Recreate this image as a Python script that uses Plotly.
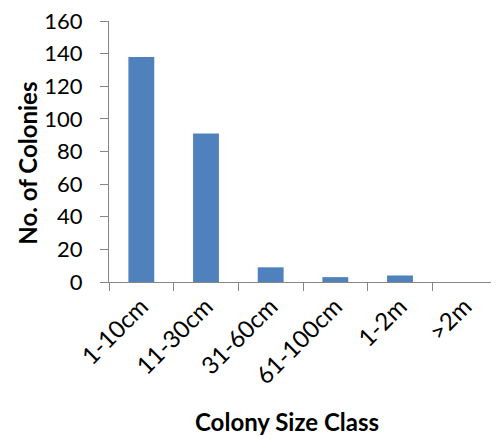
import plotly.graph_objects as go

categories = ["1-10cm", "11-30cm", "31-60cm", "61-100cm", "1-2m", ">2m"]
colonies = [138, 91, 9, 3, 4, 0]
y_ticks = [0, 20, 40, 60, 80, 100, 120, 140, 160]
x_title = "Colony Size Class"
y_title = "No. of Colonies"

FONT = "Lato"
AXIS = "#868686"

fig = go.Figure(go.Bar(x=categories, y=colonies, marker=dict(color="#4f81bd", line=dict(width=0))))

# page body has an 8px default margin, so the figure is offset by (8, 8)
fig.update_layout(
    width=491, height=431,
    margin=dict(l=101, r=2, t=13, b=157),
    plot_bgcolor="white", paper_bgcolor="white",
    bargap=0.6, showlegend=False,
    font=dict(family=FONT, color="black", size=22),
    annotations=[
        dict(text=f"<b>{x_title}</b>", xref="paper", yref="paper", x=0.46, y=-0.536,
             xanchor="center", yanchor="middle", showarrow=False,
             font=dict(family=FONT, size=24, color="black")),
        dict(text=f"<b>{y_title}</b>", xref="paper", yref="paper", x=-0.211, y=0.454,
             xanchor="center", yanchor="middle", showarrow=False, textangle=-90,
             font=dict(family=FONT, size=24, color="black")),
    ],
)
fig.update_xaxes(
    type="category", tickangle=-45, tickson="boundaries",
    ticks="outside", ticklen=8, tickcolor=AXIS, tickwidth=1,
    showline=True, linecolor=AXIS, linewidth=1, showgrid=False,
    tickfont=dict(family=FONT, size=24), automargin=False, ticklabeloverflow="allow",
)
fig.update_yaxes(
    range=[0, 160], tickvals=y_ticks,
    ticks="outside", ticklen=8, tickcolor=AXIS, tickwidth=1,
    showline=True, linecolor=AXIS, linewidth=1, showgrid=False, zeroline=False,
    tickfont=dict(family=FONT, size=22), ticklabelstandoff=13, automargin=False,
    ticklabeloverflow="allow",
)
fig.write_html("out.html")
